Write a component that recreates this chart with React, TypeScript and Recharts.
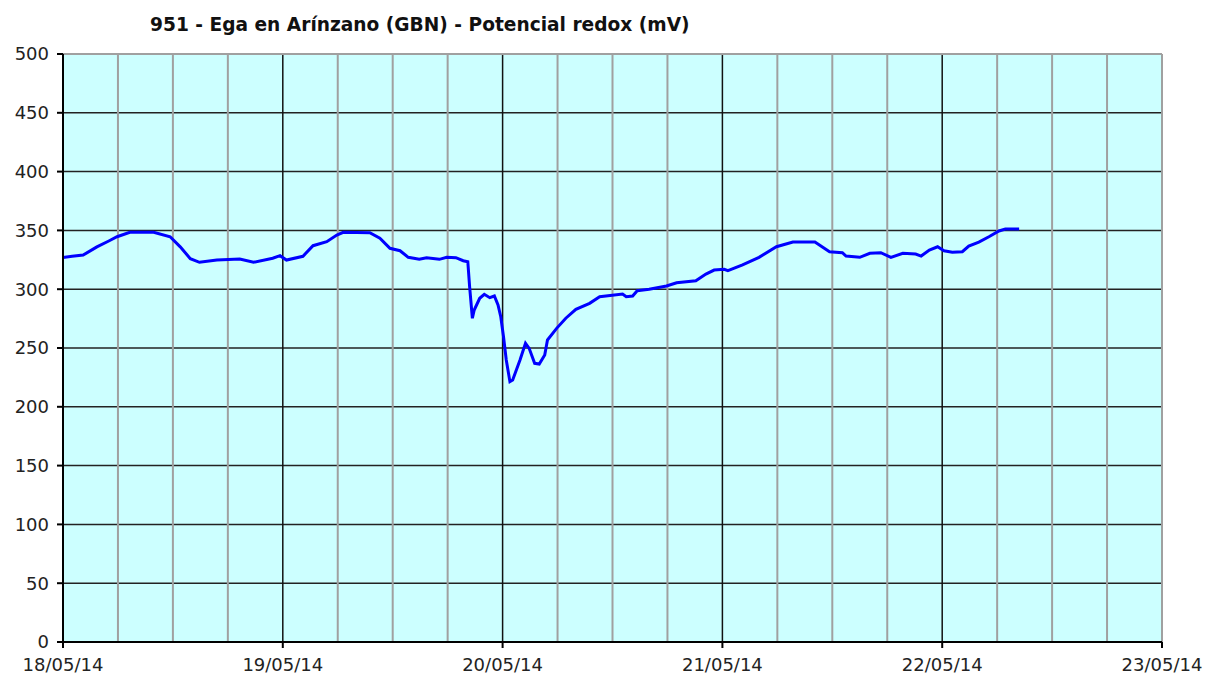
import React from 'react';
import { LineChart, Line, XAxis, YAxis, CartesianGrid, ReferenceLine } from 'recharts';

// hours since 18/05/14 00:00
const hours = [0, 1, 2.2, 3.7, 5, 5.9, 7.3, 9.9, 11.7, 12.8, 13.9, 14.9, 16.8, 19.3, 20.8, 22.9, 23.7, 24.4, 26.2, 27.3, 28.8, 29.9, 30.6, 33.5, 34.6, 35.7, 36.8, 37.7, 38.9, 39.7, 41.1, 41.9, 42.9, 43.7, 44.2, 44.4, 44.7, 44.9, 45.5, 46.0, 46.6, 47.1, 47.5, 47.8, 48.1, 48.4, 48.8, 49.1, 49.9, 50.5, 50.9, 51.5, 52.0, 52.6, 52.9, 53.9, 54.9, 56.0, 57.5, 58.6, 61.1, 61.5, 62.2, 62.7, 64.0, 65.9, 67.0, 69.1, 70.2, 71.1, 72.2, 72.6, 74.2, 76.0, 77.9, 79.7, 82.1, 83.7, 85.1, 85.5, 87.0, 88.1, 89.3, 90.4, 91.7, 93.1, 93.7, 94.6, 95.5, 96.2, 97.1, 98.2, 98.9, 100.0, 101.1, 102.2, 102.9, 104.4];
const redox = [327, 328, 329, 336, 341, 344.6, 348.4, 348.4, 344.6, 336, 326, 322.9, 324.8, 325.7, 322.9, 326.3, 328.5, 324.8, 328, 337, 340.4, 346, 348.4, 348, 343.3, 334.8, 332.7, 327.1, 325.4, 326.8, 325.4, 327.1, 326.8, 324.2, 323.4, 302, 275.3, 282.3, 292.3, 295.7, 292.8, 294.2, 286.6, 276.6, 259.6, 239.8, 221.4, 222.8, 239.8, 254, 249.7, 237, 236.4, 244, 256.8, 266.7, 275.3, 282.9, 288, 293.6, 295.9, 293.6, 294.2, 298.7, 299.9, 302.7, 305.5, 307.2, 312.9, 316.3, 316.9, 315.7, 320.6, 327.1, 336.1, 340.1, 340.1, 331.9, 331, 328.2, 327.1, 330.5, 331, 327.1, 330.5, 329.9, 328.2, 333.3, 336.1, 332.7, 331.4, 331.9, 336.7, 340.1, 344.6, 349.5, 351.2, 351.2];

const dayTicks = [0, 24, 48, 72, 96, 120];
const dayLabels = ['18/05/14', '19/05/14', '20/05/14', '21/05/14', '22/05/14', '23/05/14'];
const minorTicks = [6, 12, 18, 30, 36, 42, 54, 60, 66, 78, 84, 90, 102, 108, 114];
const majorDays = [24, 48, 72, 96];
const yTicks = [0, 50, 100, 150, 200, 250, 300, 350, 400, 450, 500];

const title = '951 - Ega en Arínzano (GBN) - Potencial redox (mV)';

const data = hours.map((h, i) => ({ h, v: redox[i] }));

const font = 'Verdana, "DejaVu Sans", sans-serif';

export default function App() {
  return (
    <div style={{ position: 'absolute', left: 0, top: 0, width: 1211, height: 677, background: '#fff' }}>
      <LineChart width={1211} height={677} data={data} margin={{ top: 54, right: 49, bottom: 0, left: 0 }}>
        <CartesianGrid vertical={false} stroke="#222" strokeWidth={1.5} fill="#CCFFFF" fillOpacity={1} strokeDasharray="" />
        {minorTicks.map((t) => (
          <ReferenceLine key={'m' + t} x={t} stroke="#a0a0a0" strokeWidth={2} ifOverflow="visible" />
        ))}
        {majorDays.map((t) => (
          <ReferenceLine key={'d' + t} x={t} stroke="#111" strokeWidth={1.5} ifOverflow="visible" />
        ))}
        <ReferenceLine x={120} stroke="#a0a0a0" strokeWidth={2} />
        <ReferenceLine y={500} stroke="#a0a0a0" strokeWidth={2} />
        <XAxis
          dataKey="h"
          type="number"
          domain={[0, 120]}
          ticks={dayTicks}
          tickFormatter={(v: number) => dayLabels[dayTicks.indexOf(v)]}
          height={35}
          tickSize={6}
          tickMargin={10}
          stroke="#000"
          strokeWidth={2}
          tick={{ fill: '#222', fontSize: 18, fontFamily: font }}
          interval={0}
        />
        <YAxis
          type="number"
          domain={[0, 500]}
          ticks={yTicks}
          width={63}
          tickSize={6}
          tickMargin={8}
          stroke="#000"
          strokeWidth={2}
          tick={{ fill: '#222', fontSize: 18, fontFamily: font }}
          interval={0}
        />
        <Line
          type="linear"
          dataKey="v"
          stroke="#0000FF"
          strokeWidth={3}
          dot={false}
          isAnimationActive={false}
        />
        <text x={150} y={31} fontFamily={font} fontWeight="bold" fontSize={18.6} fill="#111">
          {title}
        </text>
      </LineChart>
    </div>
  );
}
